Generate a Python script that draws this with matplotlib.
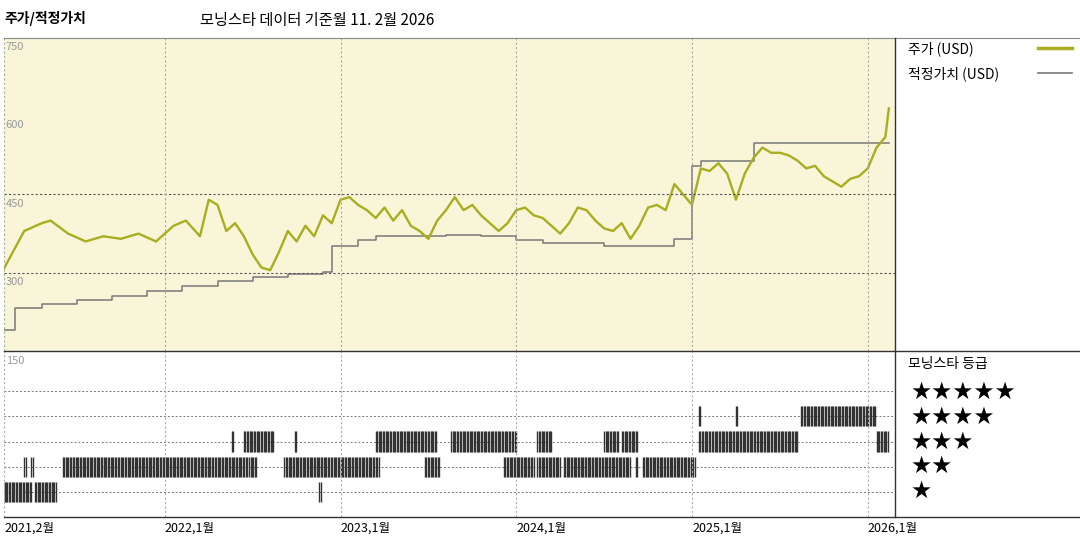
import matplotlib
matplotlib.use("Agg")
import matplotlib.pyplot as plt
import numpy as np
from matplotlib.lines import Line2D

plt.rcParams['font.family'] = ['Noto Sans CJK KR', 'DejaVu Sans']

# === DATA ===
price_t = [2021.08, 2021.12, 2021.2, 2021.3, 2021.35, 2021.45, 2021.55, 2021.65, 2021.75, 2021.85,
           2021.95, 2022.05, 2022.12, 2022.2, 2022.25, 2022.3, 2022.35, 2022.4, 2022.45, 2022.5,
           2022.55, 2022.6, 2022.65, 2022.7, 2022.75, 2022.8, 2022.85, 2022.9, 2022.95, 2023.0,
           2023.05, 2023.1, 2023.15, 2023.2, 2023.25, 2023.3, 2023.35, 2023.4, 2023.45, 2023.5,
           2023.55, 2023.6, 2023.65, 2023.7, 2023.75, 2023.8, 2023.85, 2023.9, 2023.95, 2024.0,
           2024.05, 2024.1, 2024.15, 2024.2, 2024.25, 2024.3, 2024.35, 2024.4, 2024.45, 2024.5,
           2024.55, 2024.6, 2024.65, 2024.7, 2024.75, 2024.8, 2024.85, 2024.9, 2024.95, 2025.0,
           2025.05, 2025.1, 2025.15, 2025.2, 2025.25, 2025.3, 2025.35, 2025.4, 2025.45, 2025.5,
           2025.55, 2025.6, 2025.65, 2025.7, 2025.75, 2025.8, 2025.85, 2025.9, 2025.95, 2026.0,
           2026.05, 2026.1, 2026.12]
price_v = [305, 330, 380, 395, 400, 375, 360, 370, 365, 375,
           360, 390, 400, 370, 440, 430, 380, 395, 370, 335,
           310, 305, 340, 380, 360, 390, 370, 410, 395, 440,
           445, 430, 420, 405, 425, 400, 420, 390, 380, 365,
           400, 420, 445, 420, 430, 410, 395, 380, 395, 420,
           425, 410, 405, 390, 375, 395, 425, 420, 400, 385,
           380, 395, 365, 390, 425, 430, 420, 470, 450, 430,
           500, 495, 510, 490, 440, 490, 520, 540, 530, 530,
           525, 515, 500, 505, 485, 475, 465, 480, 485, 500,
           540, 560, 615]

fair_t = [2021.08, 2021.15, 2021.3, 2021.5, 2021.7, 2021.9, 2022.1, 2022.3, 2022.5, 2022.7,
          2022.9, 2022.95, 2023.1, 2023.2, 2023.6, 2023.8, 2024.0, 2024.15, 2024.5, 2024.9,
          2025.0, 2025.05, 2025.35, 2026.12]
fair_v = [190, 232, 240, 248, 255, 265, 275, 285, 292, 298,
          302, 352, 362, 370, 372, 370, 362, 357, 352, 365,
          505, 515, 548, 548]

# rating segments: (start, end, stars)
rating_seg = [
    (2021.08, 2021.24, 1), (2021.26, 2021.38, 1), (2022.88, 2022.89, 1),
    (2021.20, 2021.21, 2), (2021.24, 2021.25, 2), (2021.42, 2022.47, 2), (2022.48, 2022.52, 2),
    (2022.68, 2023.22, 2), (2023.48, 2023.56, 2), (2023.93, 2024.10, 2), (2024.12, 2024.25, 2),
    (2024.27, 2024.65, 2), (2024.68, 2024.69, 2), (2024.72, 2025.02, 2),
    (2022.38, 2022.39, 3), (2022.45, 2022.62, 3), (2022.74, 2022.75, 3), (2023.20, 2023.55, 3),
    (2023.63, 2024.00, 3), (2024.12, 2024.20, 3), (2024.50, 2024.58, 3), (2024.60, 2024.69, 3),
    (2025.04, 2025.60, 3), (2026.05, 2026.12, 3),
    (2025.04, 2025.05, 4), (2025.25, 2025.26, 4), (2025.62, 2026.05, 4),
]

year_ticks = [2022, 2023, 2024, 2025, 2026]
tick_labels = ['2022,1월', '2023,1월', '2024,1월', '2025,1월', '2026,1월']

x0, x1 = 2021.085, 2026.155
fig = plt.figure(figsize=(10.8, 5.4), dpi=100)

def fx(px):
    return px / 1080

def fy(py):
    return 1 - py / 540

ax = fig.add_axes([fx(4), fy(351), fx(891), fy(38) - fy(351)])
ax.set_facecolor('#f8f5d8')
ax.set_xlim(x0, x1)
ax.set_ylim(150, 750)
ax.step(fair_t, fair_v, where='post', color='#777777', lw=1.1)
ax.plot(price_t, price_v, color='#a9ad1f', lw=1.7)
for v in [450, 300]:
    ax.axhline(v, color='#555555', lw=0.8, ls=(0, (2, 2)))
for v in [750, 600, 450, 300]:
    ax.text(x0 + 0.01, v - 8, str(v), fontsize=8, color='#999999', va='top', ha='left')

ax2 = fig.add_axes([fx(4), fy(517), fx(891), fy(351) - fy(517)])
ax2.set_xlim(x0, x1)
ax2.set_ylim(0.0, 6.6)
for s in range(1, 6):
    ax2.axhline(s, color='#777777', lw=0.7, ls=(0, (2, 2)))
for a, b, s in rating_seg:
    xs = np.arange(a, b + 0.001, 0.008)
    ax2.vlines(xs, s - 0.4, s + 0.4, color='#333333', lw=1.0)
ax2.text(x0 + 0.01, 6.4, '150', fontsize=8, color='#999999', va='top', ha='left')

for a in (ax, ax2):
    a.set_xticks([])
    a.set_yticks([])
    for sp in a.spines.values():
        sp.set_visible(False)
    for t in year_ticks:
        a.axvline(t, color='#aaaaaa', lw=0.8, ls=(0, (2, 2)))
    a.axvline(x0, color='#aaaaaa', lw=0.8, ls=(0, (2, 2)))

for t, lab in zip(year_ticks, tick_labels):
    ax2.text(t, -0.2, lab, fontsize=9, ha='left', va='top')
ax2.text(x0, -0.2, '2021,2월', fontsize=9, ha='left', va='top')

# frame lines in figure coordinates
fig.add_artist(Line2D([fx(4), fx(1080)], [fy(38), fy(38)], color='#888888', lw=0.8))
fig.add_artist(Line2D([fx(4), fx(1080)], [fy(351), fy(351)], color='#333333', lw=1.0))
fig.add_artist(Line2D([fx(4), fx(1080)], [fy(517), fy(517)], color='#333333', lw=1.0))
fig.add_artist(Line2D([fx(895), fx(895)], [fy(38), fy(517)], color='#333333', lw=1.0))

fig.text(fx(4), fy(18), '주가/적정가치', fontsize=10, fontweight='bold', va='center')
fig.text(fx(200), fy(20), '모닝스타 데이터 기준월 11. 2월 2026', fontsize=11, va='center')

fig.text(fx(908), fy(49), '주가 (USD)', fontsize=10, va='center')
fig.add_artist(Line2D([fx(1038), fx(1072)], [fy(48), fy(48)], color='#a9ad1f', lw=2.5))
fig.text(fx(908), fy(74), '적정가치 (USD)', fontsize=10, va='center')
fig.add_artist(Line2D([fx(1038), fx(1072)], [fy(73), fy(73)], color='#777777', lw=1.2))

fig.text(fx(908), fy(364), '모닝스타 등급', fontsize=10, va='center')
for s in range(1, 6):
    y_px = 491 - (s - 1) * 24.8
    fig.text(fx(910), fy(y_px), '★' * s, fontsize=17, va='center', family=['DejaVu Sans'])

fig.savefig('out.png', dpi=100, facecolor='white')
